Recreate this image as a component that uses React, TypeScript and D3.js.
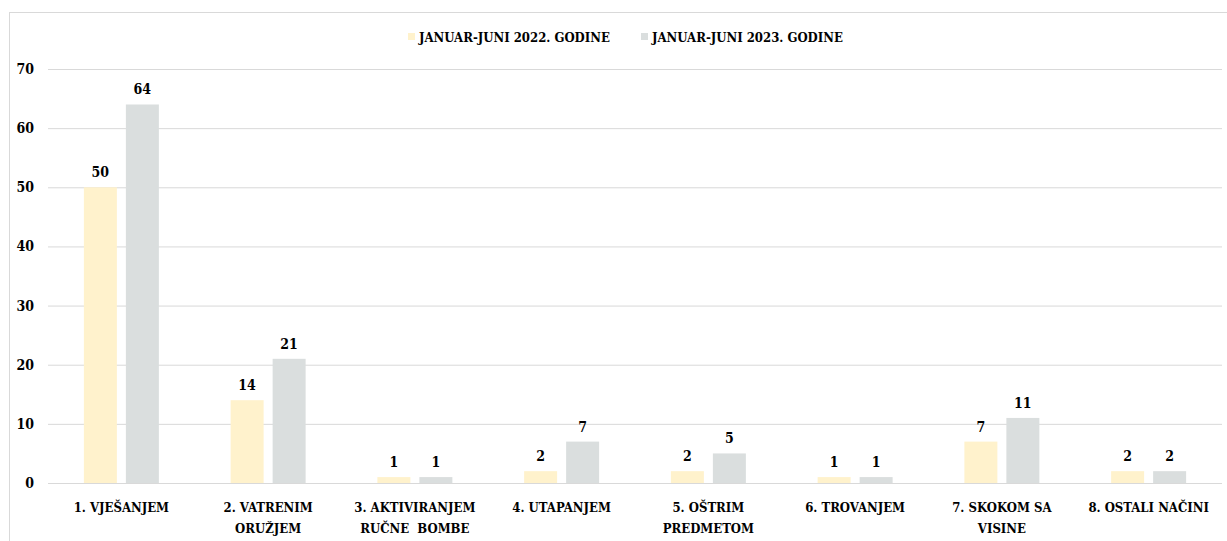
import React from "react";
import * as d3 from "d3";

const categories = [
  ["1. VJEŠANJEM"],
  ["2. VATRENIM", "ORUŽJEM"],
  ["3. AKTIVIRANJEM", "RUČNE  BOMBE"],
  ["4. UTAPANJEM"],
  ["5. OŠTRIM", "PREDMETOM"],
  ["6. TROVANJEM"],
  ["7. SKOKOM SA", "VISINE"],
  ["8. OSTALI NAČINI"],
];
const values2022 = [50, 14, 1, 2, 2, 1, 7, 2];
const values2023 = [64, 21, 1, 7, 5, 1, 11, 2];
const seriesNames = ["JANUAR-JUNI 2022. GODINE", "JANUAR-JUNI 2023. GODINE"];
const yTicks = [0, 10, 20, 30, 40, 50, 60, 70];

const W = 1227;
const H = 541;
const colors = ["#FFF2CC", "#DADEDE"];
const FONT = "'DejaVu Serif Condensed', 'DejaVu Serif', serif";

export default function App() {
  const left = 48, right = 1222, top = 69, bottom = 483;
  const x = d3.scaleBand<number>().domain(d3.range(categories.length)).range([left, right]);
  const y = d3.scaleLinear().domain([0, 70]).range([bottom, top]);
  const barW = 33;
  const gap = 9;
  const series = [values2022, values2023];

  return (
    <svg
      width={W}
      height={H}
      style={{ position: "absolute", left: 0, top: 0, background: "#fff", fontStretch: "condensed" }}
      fontFamily={FONT}
    >
      <rect x={9.5} y={12.5} width={W} height={H} fill="none" stroke="#D9D9D9" strokeWidth={1} />
      {yTicks.map((t) => (
        <g key={t}>
          <line x1={left} x2={right} y1={y(t) + 0.5} y2={y(t) + 0.5} stroke="#D9D9D9" strokeWidth={1} />
          <text x={34} y={y(t)} dy="0.36em" textAnchor="end" fontSize={14} fontWeight="bold" fill="#000">
            {t}
          </text>
        </g>
      ))}
      {series.map((vals, si) =>
        vals.map((v, i) => {
          const cx = (x(i) as number) + x.bandwidth() / 2;
          const bx = si === 0 ? cx - gap / 2 - barW : cx + gap / 2;
          return (
            <g key={`${si}-${i}`}>
              <rect x={bx} y={y(v)} width={barW} height={y(0) - y(v)} fill={colors[si]} />
              <text x={bx + barW / 2} y={y(v) - 10} textAnchor="middle" fontSize={14} fontWeight="bold" fill="#000">
                {v}
              </text>
            </g>
          );
        })
      )}
      {categories.map((lines, i) => {
        const cx = (x(i) as number) + x.bandwidth() / 2;
        return (
          <text key={i} textAnchor="middle" fontSize={13} fontWeight="bold" fill="#000" style={{ whiteSpace: "pre" }}>
            {lines.map((l, j) => (
              <tspan key={j} x={cx} y={512 + j * 20.5}>
                {l}
              </tspan>
            ))}
          </text>
        );
      })}
      {seriesNames.map((n, si) => {
        const lx = si === 0 ? 408 : 641;
        return (
          <g key={n}>
            <rect x={lx} y={33} width={7} height={7} fill={colors[si]} />
            <text x={lx + 11} y={42} fontSize={13} fontWeight="bold" fill="#000">
              {n}
            </text>
          </g>
        );
      })}
    </svg>
  );
}
